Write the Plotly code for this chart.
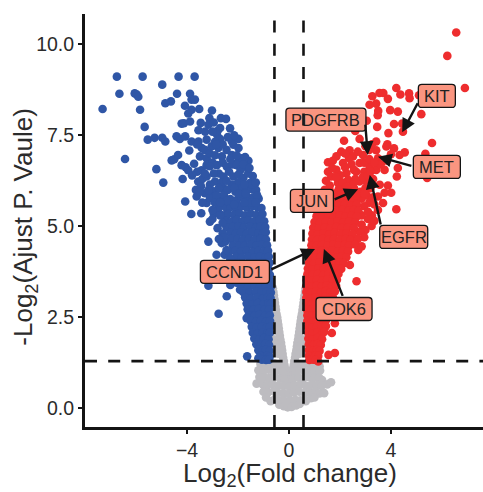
import plotly.graph_objects as go

gray_points = [
(-0.63,3.3),(-0.61,3.2),(-0.59,3.1),(-0.57,3.0),(-0.55,2.9),(-0.53,2.8),(-0.51,2.7),(-0.49,2.6),(-0.46,2.5),(-0.44,2.4),(-0.42,2.3),(-0.40,2.2),(-0.38,2.1),(-0.36,2.0),(-0.34,1.9),(-0.31,1.8),(-0.29,1.7),(-0.27,1.6),(-0.25,1.5),(-0.23,1.4),(-0.2,1.3),(-0.18,1.2),(-0.15,1.1),(-0.12,1.0),(-0.09,0.9),(-0.05,0.8),(-0.02,0.7),
(0.65,3.3),(0.63,3.2),(0.61,3.1),(0.59,3.0),(0.57,2.9),(0.55,2.8),(0.53,2.7),(0.51,2.6),(0.48,2.5),(0.46,2.4),(0.44,2.3),(0.42,2.2),(0.40,2.1),(0.38,2.0),(0.36,1.9),(0.33,1.8),(0.31,1.7),(0.29,1.6),(0.26,1.5),(0.24,1.4),(0.21,1.3),(0.19,1.2),(0.16,1.1),(0.13,1.0),(0.1,0.9),(0.06,0.8),(0.02,0.7),
(-0.62,2.6),(-0.64,2.2),(-0.6,1.9),(-0.58,1.6),(-0.5,1.75),(-0.42,1.5),(0.65,2.6),(0.66,2.2),(0.62,1.9),(0.6,1.6),(0.5,1.75),(0.42,1.5),
(-1.12,1.22),(-0.94,1.25),(-0.76,1.2),(-0.58,1.24),(-0.4,1.2),(0.36,1.22),(0.55,1.2),(0.74,1.25),(0.93,1.2),(1.1,1.23),(1.2,1.16),
(-1.2,1.05),(-1.0,1.03),(-0.8,1.06),(-0.6,1.02),(-0.42,1.05),(-0.26,1.0),(0.25,1.02),(0.42,1.06),(0.6,1.03),(0.8,1.05),(1.0,1.02),(1.22,1.04),
(-1.16,0.86),(-0.95,0.85),(-0.76,0.84),(-0.56,0.87),(-0.36,0.83),(-0.18,0.8),(0.18,0.82),(0.38,0.85),(0.57,0.83),(0.78,0.86),(0.98,0.84),(1.18,0.85),(1.3,0.78),
(-1.27,0.68),(-1.03,0.66),(-0.84,0.64),(-0.64,0.67),(-0.42,0.63),(-0.22,0.62),(0.0,0.6),(0.22,0.63),(0.44,0.66),(0.66,0.62),(0.88,0.65),(1.1,0.64),(1.28,0.62),(1.5,0.66),(1.65,0.72),
(-1.0,0.46),(-0.83,0.44),(-0.6,0.47),(-0.42,0.43),(-0.21,0.42),(0.0,0.4),(0.2,0.44),(0.41,0.46),(0.62,0.42),(0.84,0.45),(1.05,0.47),(1.2,0.41),(1.38,0.42),
(-0.9,0.3),(-0.72,0.2),(-0.55,0.26),(-0.35,0.22),(-0.16,0.2),(0.05,0.2),(0.25,0.24),(0.45,0.22),(0.66,0.2),(0.86,0.28),(1.0,0.3),
(-0.38,0.1),(-0.2,0.06),(-0.05,0.03),(0.1,0.04),(0.28,0.08),(0.42,0.12),
]

blue_points = [
(-7.31,8.22),(-6.75,9.11),(-6.65,8.64),(-6.43,6.85),(-5.74,9.11),(-6.05,8.65),(-5.97,8.62),(-5.91,8.56),(-5.84,8.2),(-5.66,7.73),(-5.54,7.38),(-5.27,7.43),(-4.97,7.43),(-4.85,7.33),
(-4.97,8.89),(-4.33,9.11),(-3.70,9.11),(-4.39,8.64),(-4.85,8.38),(-4.63,8.43),(-3.88,8.64),(-5.2,6.57),(-4.93,6.2),(-4.6,6.81),(-4.5,6.84),(-4.35,6.96),(-4.17,6.3),(-4.07,5.68),(-3.83,5.34),(-3.44,5.36),(-3.91,7.08),
(-4.08,8.31),(-3.52,8.22),(-3.02,8.18),(-3.82,8.48),(-3.69,8.48),(-3.95,8.1),(-3.82,8.2),(-3.12,7.97),(-4.21,7.82),(-4.12,7.83),(-3.88,7.88),(-3.46,7.84),(-3.16,7.79),(-2.67,7.97),(-2.47,7.95),(-2.31,7.69),(-2.7,7.7),(-2.8,7.62),(-3.55,7.64),(-3.29,7.6),(-2.83,7.53),
(-4.41,7.47),(-4.28,7.4),(-4.07,7.47),(-3.82,7.33),(-3.55,7.33),(-3.23,7.38),(-2.7,7.4),(-2.24,7.33),(-1.98,7.4),(-1.98,7.15),(-2.18,7.24),(-3.42,7.15),(-3.03,7.2),(-2.77,7.15),(-3.6,7.25),(-2.9,7.32),
(-3.49,6.92),(-3.23,6.87),(-2.63,6.92),(-2.24,6.96),(-1.85,6.87),(-1.59,6.8),(-1.72,6.9),(-2.0,6.78),(-4.21,6.68),(-4.05,6.62),(-3.95,6.54),(-3.72,6.72),(-3.43,6.54),(-3.23,6.68),(-3.0,6.75),(-2.83,6.68),(-2.6,6.75),(-2.44,6.64),(-2.2,6.7),(-2.05,6.68),(-1.72,6.64),(-1.9,6.55),
(-1.42,6.38),(-3.56,6.23),(-3.4,6.3),(-3.23,6.37),(-2.9,6.23),(-2.75,6.45),(-2.57,6.37),(-2.35,6.5),(-2.18,6.37),(-1.98,6.42),(-1.79,6.33),(-1.6,6.45),(-1.53,6.19),(-2.0,6.2),(-2.25,6.15),
(-3.65,6.0),(-3.3,5.91),(-2.96,5.96),(-2.57,6.05),(-2.4,6.0),(-2.1,5.95),(-1.85,6.05),(-1.65,6.0),(-1.45,6.02),(-1.29,6.0),(-1.19,5.76),(-3.62,5.82),(-3.23,5.64),(-3.1,5.78),(-2.7,5.82),(-2.57,5.64),(-2.55,5.85),(-2.3,5.75),(-2.05,5.72),(-1.85,5.8),(-1.6,5.78),(-1.4,5.8),
(-2.75,5.5),(-2.45,5.5),(-2.28,5.53),(-2.07,5.5),(-1.87,5.55),(-1.66,5.52),(-1.44,5.56),(-1.23,5.52),(-1.08,5.5),
(-2.95,5.35),(-2.6,5.3),(-2.38,5.34),(-2.15,5.32),(-1.95,5.36),(-1.72,5.3),(-1.5,5.35),(-1.28,5.31),(-1.04,5.34),
(-3.1,5.13),(-2.8,4.95),(-2.48,5.15),(-2.25,5.13),(-2.05,5.17),(-1.82,5.14),(-1.6,5.16),(-1.38,5.13),(-1.16,5.17),(-0.97,5.14),
(-2.45,4.97),(-2.2,4.98),(-1.98,5.0),(-1.76,4.97),(-1.52,5.0),(-1.3,4.96),(-1.1,5.0),(-0.93,4.98),
(-2.6,4.8),(-2.3,4.82),(-2.08,4.8),(-1.88,4.83),(-1.65,4.8),(-1.42,4.84),(-1.2,4.81),(-1.02,4.8),(-0.91,4.84),
(-3.16,4.58),(-2.64,4.54),(-2.5,4.58),(-2.26,4.65),(-2.02,4.65),(-1.8,4.63),(-1.57,4.66),(-1.35,4.63),(-1.12,4.65),(-0.9,4.64),
(-2.2,4.48),(-1.95,4.48),(-1.74,4.47),(-1.5,4.5),(-1.28,4.47),(-1.05,4.5),(-0.86,4.48),
(-2.84,4.22),(-2.52,4.22),(-2.35,4.3),(-2.1,4.32),(-1.88,4.3),(-1.65,4.33),(-1.42,4.3),(-1.2,4.32),(-0.98,4.31),(-0.82,4.33),
(-2.08,4.16),(-1.85,4.15),(-1.6,4.17),(-1.36,4.14),(-1.13,4.17),(-0.92,4.15),(-0.79,4.17),
(-2.4,3.95),(-2.03,4.0),(-1.8,3.98),(-1.55,4.01),(-1.3,3.98),(-1.07,4.0),(-0.86,3.99),(-0.76,4.0),
(-1.97,3.83),(-1.74,3.82),(-1.5,3.85),(-1.27,3.82),(-1.03,3.84),(-0.8,3.83),
(-2.15,3.7),(-1.92,3.67),(-1.7,3.66),(-1.45,3.69),(-1.22,3.66),(-0.98,3.68),(-0.75,3.67),
(-2.3,3.39),(-3.16,3.37),(-2.05,3.45),(-1.88,3.51),(-1.65,3.5),(-1.4,3.53),(-1.17,3.5),(-0.93,3.52),(-0.72,3.5),
(-1.85,3.35),(-1.6,3.34),(-1.36,3.37),(-1.13,3.34),(-0.9,3.36),(-0.71,3.34),
(-1.92,3.26),(-1.8,3.2),(-1.55,3.18),(-1.3,3.21),(-1.08,3.18),(-0.87,3.2),(-0.71,3.18),
(-2.44,3.08),(-1.72,3.05),(-1.5,3.02),(-1.26,3.05),(-1.04,3.02),(-0.84,3.04),(-0.72,3.03),
(-1.66,2.88),(-1.44,2.86),(-1.22,2.89),(-1.0,2.86),(-0.81,2.88),(-0.72,2.87),
(-2.76,2.6),(-1.62,2.72),(-1.4,2.7),(-1.18,2.73),(-0.97,2.7),(-0.78,2.72),
(-1.58,2.56),(-1.36,2.54),(-1.15,2.57),(-0.94,2.54),(-0.75,2.56),
(-1.66,2.48),(-1.5,2.4),(-1.3,2.38),(-1.1,2.41),(-0.9,2.38),(-0.74,2.4),
(-1.46,2.24),(-1.26,2.22),(-1.06,2.25),(-0.87,2.22),(-0.74,2.24),
(-1.42,2.08),(-1.22,2.06),(-1.02,2.09),(-0.85,2.06),(-0.75,2.08),
(-1.36,1.92),(-1.17,1.9),(-0.98,1.93),(-0.8,1.9),
(-1.28,1.76),(-1.1,1.74),(-0.93,1.77),(-0.78,1.74),
(-1.2,1.6),(-1.04,1.58),(-0.9,1.61),(-0.77,1.58),
(-1.12,1.44),(-0.98,1.42),(-0.85,1.45),(-0.76,1.42),
(-1.64,1.43),(-1.2,1.38),(-1.06,1.34),(-0.9,1.33),(-0.78,1.34),
(-3.3,7.1),(-3.1,7.0),(-2.9,6.95),(-2.45,7.1),(-2.6,7.25),(-2.4,7.45),(-2.15,7.5),(-3.0,7.6),(-2.95,7.85),(-2.85,7.25),(-3.1,6.65),(-2.95,6.45),(-3.1,6.15),(-3.45,6.1),(-2.65,6.2),(-2.45,6.25),(-2.75,6.05),(-3.5,5.95),(-3.15,6.0),(-2.85,5.85),(-2.9,5.65),(-3.0,5.45),(-3.4,5.65),(-2.3,6.85),(-2.05,6.95),(-1.8,6.7),(-1.55,6.6),(-1.45,6.15),(-1.75,6.15),(-1.3,6.2),(-2.15,6.05),(-1.95,5.9),(-1.7,5.9),(-1.25,5.85),(-1.5,5.65),(-1.3,5.65),(-1.75,5.65),(-2.15,5.6),(-2.45,5.7),(-2.7,5.65),(-2.6,5.1),(-2.55,4.7),(-2.75,4.65),(-2.7,5.3),(-3.3,6.45),(-3.6,6.5),(-3.8,6.4),(-3.0,5.2),(-2.45,4.35),(-2.3,4.1),(-2.2,3.85),
]

red_points = [
(6.56,10.32),(6.21,9.68),(6.9,8.8),(4.21,8.8),(4.37,8.62),(4.73,8.52),(4.71,8.65),(3.55,8.66),(3.7,8.66),(3.27,8.57),(3.88,8.5),(3.42,8.37),(3.16,8.34),(3.97,8.19),(4.27,8.15),(3.48,8.05),(3.5,8.17),(5.19,8.08),
(5.1,8.6),(3.46,7.73),(4.12,7.81),(4.47,7.6),(4.44,7.82),(3.9,7.56),(2.77,7.4),(2.16,7.35),(3.42,7.33),(5.61,7.29),(3.86,7.25),(3.05,7.9),(2.6,7.62),
(3.42,7.09),(3.82,7.19),(4.12,7.14),(4.54,7.03),(4.34,6.96),(5.35,6.99),(4.0,6.98),(2.38,7.09),(2.05,7.05),(1.86,6.92),(1.53,6.76),(2.12,6.74),(2.51,6.92),(2.9,6.96),(3.49,6.87),(4.27,6.6),(4.23,6.37),(5.42,6.33),(3.75,6.55),(3.42,6.55),(3.16,6.64),(2.77,6.74),(1.53,6.5),(1.86,6.55),(1.66,6.37),(2.25,6.46),(2.64,6.5),(2.95,6.5),(2.32,6.28),(1.92,6.19),(2.77,6.23),(3.56,6.14),(3.88,6.12),(3.75,5.92),(4.01,5.92),(3.49,5.82),(1.59,6.0),(1.27,5.87),(3.69,5.64),(4.21,5.47),(3.49,5.45),(3.24,5.01),
(2.95,6.75),(3.15,6.85),(2.35,6.88),(1.72,6.8),(3.0,6.25),(3.2,6.05),(3.05,5.85),(2.55,6.05),(2.8,5.95),(2.1,6.0),(1.8,5.9),(2.35,5.85),(3.15,5.65),(2.95,5.55),(3.25,5.3),(3.1,5.2),(2.85,5.3),(3.0,4.9),(2.78,4.85),
(1.4,5.76),(1.62,5.74),(1.85,5.72),(2.08,5.75),(2.32,5.71),(2.55,5.74),(2.85,5.76),
(1.3,5.6),(1.52,5.58),(1.75,5.62),(1.98,5.58),(2.2,5.61),(2.44,5.58),(2.66,5.6),
(1.18,5.44),(1.4,5.42),(1.64,5.45),(1.87,5.42),(2.1,5.46),(2.33,5.43),(2.55,5.45),(2.72,5.42),
(1.08,5.28),(1.3,5.26),(1.54,5.29),(1.76,5.26),(2.0,5.3),(2.22,5.27),(2.45,5.29),(2.66,5.27),
(1.0,5.12),(1.22,5.1),(1.45,5.13),(1.68,5.1),(1.9,5.14),(2.13,5.11),(2.36,5.13),(2.6,5.11),
(0.95,4.96),(1.17,4.94),(1.4,4.97),(1.62,4.94),(1.85,4.98),(2.07,4.95),(2.3,4.97),(2.55,4.95),
(0.92,4.8),(1.13,4.78),(1.35,4.81),(1.58,4.78),(1.8,4.82),(2.03,4.79),(2.26,4.81),(2.5,4.79),
(0.9,4.64),(1.1,4.62),(1.33,4.65),(1.55,4.62),(1.77,4.66),(2.0,4.63),(2.22,4.65),(2.42,4.63),
(0.88,4.48),(1.08,4.46),(1.3,4.49),(1.52,4.46),(1.74,4.5),(1.96,4.47),(2.18,4.49),(2.36,4.47),
(0.85,4.32),(1.05,4.3),(1.27,4.33),(1.48,4.3),(1.7,4.34),(1.92,4.31),(2.12,4.33),(2.32,4.31),(2.72,4.35),
(0.82,4.16),(1.03,4.14),(1.25,4.17),(1.46,4.14),(1.67,4.18),(1.88,4.15),(2.08,4.17),(2.25,4.15),
(0.78,4.0),(0.98,3.98),(1.2,4.01),(1.42,3.98),(1.62,4.02),(1.83,3.99),(2.0,4.01),(2.15,3.99),(2.39,3.94),
(0.74,3.84),(0.94,3.82),(1.16,3.85),(1.37,3.82),(1.58,3.86),(1.78,3.83),(1.96,3.85),(2.05,3.83),
(0.72,3.68),(0.92,3.66),(1.13,3.69),(1.34,3.66),(1.55,3.7),(1.75,3.67),(1.94,3.69),
(0.7,3.52),(0.9,3.5),(1.1,3.53),(1.3,3.5),(1.5,3.54),(1.7,3.51),(1.88,3.53),(2.65,3.49),
(0.68,3.36),(0.88,3.34),(1.08,3.37),(1.28,3.34),(1.48,3.38),(1.67,3.35),(1.85,3.37),
(0.68,3.2),(0.87,3.18),(1.06,3.21),(1.26,3.18),(1.45,3.22),(1.63,3.19),(1.8,3.21),
(0.68,3.04),(0.86,3.02),(1.05,3.05),(1.24,3.02),(1.42,3.06),(1.6,3.03),(1.72,3.05),
(0.7,2.88),(0.88,2.86),(1.06,2.89),(1.24,2.86),(1.42,2.9),(1.58,2.87),(1.68,2.89),
(0.7,2.72),(0.88,2.7),(1.06,2.73),(1.24,2.7),(1.42,2.74),(1.6,2.71),
(0.72,2.56),(0.9,2.54),(1.08,2.57),(1.26,2.54),(1.43,2.58),(1.55,2.61),
(0.72,2.4),(0.9,2.38),(1.08,2.41),(1.26,2.38),(1.45,2.42),(1.8,2.34),
(0.74,2.24),(0.92,2.22),(1.1,2.25),(1.28,2.22),(1.45,2.26),
(0.76,2.08),(0.94,2.06),(1.12,2.09),(1.3,2.06),(1.38,2.1),(1.68,2.07),
(0.76,1.92),(0.94,1.9),(1.12,1.93),(1.3,1.9),
(0.78,1.76),(0.95,1.74),(1.12,1.77),(1.25,1.74),
(0.78,1.6),(0.94,1.58),(1.1,1.61),(1.2,1.58),
(0.78,1.45),(0.93,1.43),(1.06,1.46),(1.15,1.44),
(1.8,1.52),(1.55,1.47),(0.8,1.33),(0.95,1.34),(1.05,1.33),(1.15,1.29),
(1.7,6.6),(2.0,6.4),(2.2,6.62),(2.45,6.7),(2.6,6.3),(2.9,6.35),(3.1,6.4),(3.3,6.3),(2.5,6.15),(2.1,6.2),(1.85,6.35),(1.45,6.25),(1.6,6.12),(1.95,6.02),(2.25,6.08),(3.0,6.05),(2.65,5.85),(2.95,5.9),(1.55,5.88),(2.05,5.88),(3.3,5.8),(3.2,6.5),(2.2,7.0),(2.7,7.05),(3.15,7.1),(3.6,6.7),(3.85,6.8),(3.0,7.2),(2.55,6.55),(3.35,6.75),(3.25,7.25),(1.4,6.0),(3.35,5.6),(3.1,5.4),(3.35,5.15),(2.85,5.05),(2.95,4.7),(2.7,4.65),(2.6,4.5),(2.85,4.45),
]

genes = ["KIT", "PDGFRB", "MET", "JUN", "EGFR", "CCND1", "CDK6"]
head_x = [4.44, 3.09, 3.49, 2.71, 3.17, 1.02, 1.37]
head_y = [7.58, 6.96, 6.91, 6.02, 6.41, 4.38, 4.38]
tail_x = [5.08, 2.99, 4.86, 1.73, 3.61, -0.75, 2.13]
tail_y = [8.42, 7.83, 6.65, 5.72, 5.01, 3.80, 3.05]
label_x = [5.8, 1.45, 5.8, 0.9, 4.5, -2.12, 2.16]
label_y = [8.58, 7.93, 6.63, 5.7, 4.71, 3.75, 2.73]
label_w = [37, 80, 47, 43, 48, 69, 56]

x_ticks = [-4, 0, 4]
y_ticks = [0, 2.5, 5, 7.5, 10]
x_range = [-8.0, 7.61]
y_range = [-0.51, 10.83]
log2fc_cut = 0.57
padj_cut = 1.3

W, H = 483, 492
L, R, T, B = 85, 0, 14, 65
px_x = (x_range[1] - x_range[0]) / (W - L - R)
px_y = (y_range[1] - y_range[0]) / (H - T - B)

BLUE, RED, GRAY = "#2F56A6", "#EE2D2E", "#BDBCC0"
SALMON = "#FA9580"
INK = "#141414"
TXT = "#2b2b2b"
FONT = "Liberation Sans, Arial, sans-serif"

fig = go.Figure()
for pts, col, name in [(gray_points, GRAY, "NS"), (blue_points, BLUE, "Down"), (red_points, RED, "Up")]:
    fig.add_trace(go.Scatter(x=[p[0] for p in pts], y=[p[1] for p in pts], mode="markers", name=name,
                             marker=dict(color=col, size=8.6, line=dict(width=0)), cliponaxis=False))

def rounded(cx, cy, w, h=23, r=3.5):
    x0, x1 = cx - w / 2 * px_x, cx + w / 2 * px_x
    y0, y1 = cy - h / 2 * px_y, cy + h / 2 * px_y
    rx, ry = r * px_x, r * px_y
    return (f"M{x0+rx},{y0} L{x1-rx},{y0} Q{x1},{y0} {x1},{y0+ry} L{x1},{y1-ry} Q{x1},{y1} {x1-rx},{y1} "
            f"L{x0+rx},{y1} Q{x0},{y1} {x0},{y1-ry} L{x0},{y0+ry} Q{x0},{y0} {x0+rx},{y0} Z")

for cx, cy, w in zip(label_x, label_y, label_w):
    fig.add_shape(type="path", path=rounded(cx, cy, w), fillcolor=SALMON,
                  line=dict(color=INK, width=1.3), layer="above")

DASH = "12px,11.2px"
for xv in (-log2fc_cut, log2fc_cut):
    fig.add_shape(type="line", x0=xv, x1=xv, y0=y_range[0], y1=y_range[1], layer="above",
                  line=dict(color=INK, width=2.6, dash=DASH))
fig.add_shape(type="line", x0=x_range[0], x1=x_range[1], y0=padj_cut, y1=padj_cut, layer="above",
              line=dict(color=INK, width=2.6, dash=DASH))

for hx, hy, tx, ty in zip(head_x, head_y, tail_x, tail_y):
    fig.add_annotation(x=hx, y=hy, ax=tx, ay=ty, axref="x", ayref="y", xref="x", yref="y", text="",
                       showarrow=True, arrowhead=2, arrowsize=1.15, arrowwidth=2.4, arrowcolor=INK,
                       startstandoff=0, standoff=0)
for g, lx, ly in zip(genes, label_x, label_y):
    fig.add_annotation(x=lx, y=ly, xref="x", yref="y", text=g, showarrow=False,
                       font=dict(family=FONT, size=16.5, color="#222222"))

fig.add_annotation(text="Log<sub>2</sub>(Fold change)", xref="paper", yref="paper", x=0.515, y=0,
                   xanchor="center", yanchor="top", yshift=-29, showarrow=False,
                   font=dict(family=FONT, size=26, color=TXT))
fig.add_annotation(text="-Log<sub>2</sub>(Ajust P. Vaule)", xref="paper", yref="paper", x=0, y=0.485,
                   xanchor="center", yanchor="middle", xshift=-60, textangle=-90, showarrow=False,
                   font=dict(family=FONT, size=26, color=TXT))

fig.update_xaxes(range=x_range, tickvals=x_ticks, showgrid=False, zeroline=False, showline=True,
                 linecolor=INK, linewidth=3, ticks="outside", ticklen=4, tickwidth=2, tickcolor=INK,
                 tickfont=dict(family=FONT, size=19.5, color=TXT))
fig.update_yaxes(range=y_range, tickvals=y_ticks, tickformat=".1f", showgrid=False, zeroline=False, showline=True,
                 linecolor=INK, linewidth=3, ticks="outside", ticklen=4, tickwidth=2, tickcolor=INK,
                 tickfont=dict(family=FONT, size=19.5, color=TXT))
fig.update_layout(width=W, height=H, autosize=False, margin=dict(l=L, r=R, t=T, b=B),
                  paper_bgcolor="white", plot_bgcolor="white", showlegend=False)
fig.write_html("out.html", config={"displayModeBar": False},
               post_script="document.body.style.margin='0';document.documentElement.style.overflow='hidden';")
